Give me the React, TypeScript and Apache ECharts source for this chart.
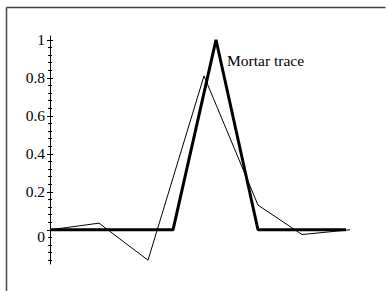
import React, { useEffect, useRef } from "react";
import * as echarts from "echarts";

// Thin (observed) trace: x position (arbitrary units), value
const traceX = [0, 49, 98, 154, 208, 252, 300];
const traceY = [0.0, 0.035, -0.16, 0.81, 0.13, -0.025, 0.0];

// Thick "Mortar trace"
const mortarX = [0, 123, 166, 208, 296];
const mortarY = [0, 0, 1, 0, 0];

const yMajorTicks = [0, 0.2, 0.4, 0.6, 0.8, 1];
const yMinorTicks = [
  -0.16, -0.12, -0.08, -0.04, 0.04, 0.08, 0.12, 0.16, 0.24, 0.28, 0.32, 0.36,
  0.44, 0.48, 0.52, 0.56, 0.64, 0.68, 0.72, 0.76, 0.84, 0.88, 0.92, 0.96,
];
const yMin = -0.18;
const yMax = 1.02;
const xMin = 0;
const xMax = 300;
const labelText = "Mortar trace";

const FONT = "'Liberation Serif', 'DejaVu Serif', serif";
const FS = 15.5;

export default function App() {
  const ref = useRef<HTMLDivElement>(null);
  useEffect(() => {
    document.body.style.margin = "0";
    if (!ref.current) return;
    const chart = echarts.init(ref.current, undefined, { renderer: "svg" });
    const baseAxis = {
      type: "value" as const,
      min: yMin,
      max: yMax,
      position: "left" as const,
      offset: 0,
      splitLine: { show: false },
    };
    chart.setOption({
      animation: false,
      backgroundColor: "#fff",
      grid: { left: 50, right: 37, top: 36, bottom: 27, containLabel: false },
      xAxis: { type: "value", min: xMin, max: xMax, show: false },
      yAxis: [
        {
          ...baseAxis,
          axisLine: { show: true, lineStyle: { color: "#000", width: 1 } },
          axisTick: {
            show: true,
            length: 3,
            customValues: yMajorTicks,
            lineStyle: { color: "#000", width: 1 },
          },
          axisLabel: {
            show: true,
            customValues: yMajorTicks,
            margin: 5,
            color: "#000",
            fontFamily: FONT,
            fontSize: FS,
            formatter: (v: number) => (v === 0 ? "{z|0}" : String(v)),
            rich: { z: { padding: [14, 0, 0, 0], fontFamily: FONT, fontSize: FS, color: "#000" } },
          },
        },
        {
          ...baseAxis,
          axisLine: { show: false },
          axisTick: {
            show: true,
            inside: true,
            length: 3,
            customValues: yMajorTicks,
            lineStyle: { color: "#000", width: 1 },
          },
          axisLabel: { show: false },
        },
        {
          ...baseAxis,
          axisLine: { show: false },
          axisTick: {
            show: true,
            length: 2,
            customValues: yMinorTicks,
            lineStyle: { color: "#000", width: 1 },
          },
          axisLabel: { show: false },
        },
        {
          ...baseAxis,
          axisLine: { show: false },
          axisTick: {
            show: true,
            inside: true,
            length: 2,
            customValues: yMinorTicks,
            lineStyle: { color: "#000", width: 1 },
          },
          axisLabel: { show: false },
        },
      ],
      series: [
        {
          type: "line",
          data: mortarX.map((x, i) => [x, mortarY[i]]),
          showSymbol: false,
          lineStyle: { color: "#000", width: 3 },
          z: 2,
        },
        {
          type: "line",
          data: traceX.map((x, i) => [x, traceY[i]]),
          showSymbol: false,
          lineStyle: { color: "#000", width: 1 },
          z: 3,
        },
      ],
      graphic: [
        {
          type: "line",
          shape: { x1: 6.5, y1: 7.5, x2: 385.5, y2: 7.5 },
          style: { stroke: "#444", lineWidth: 1.5 },
          silent: true,
        },
        {
          type: "line",
          shape: { x1: 6.5, y1: 7.5, x2: 6.5, y2: 291 },
          style: { stroke: "#444", lineWidth: 1.5 },
          silent: true,
        },
        {
          type: "text",
          x: 227,
          y: 60,
          style: {
            text: labelText,
            fontFamily: FONT,
            fontSize: FS,
            fill: "#000",
            verticalAlign: "middle",
            align: "left",
          },
        },
      ],
    });
    return () => chart.dispose();
  }, []);
  return <div ref={ref} style={{ width: 387, height: 291 }} />;
}
